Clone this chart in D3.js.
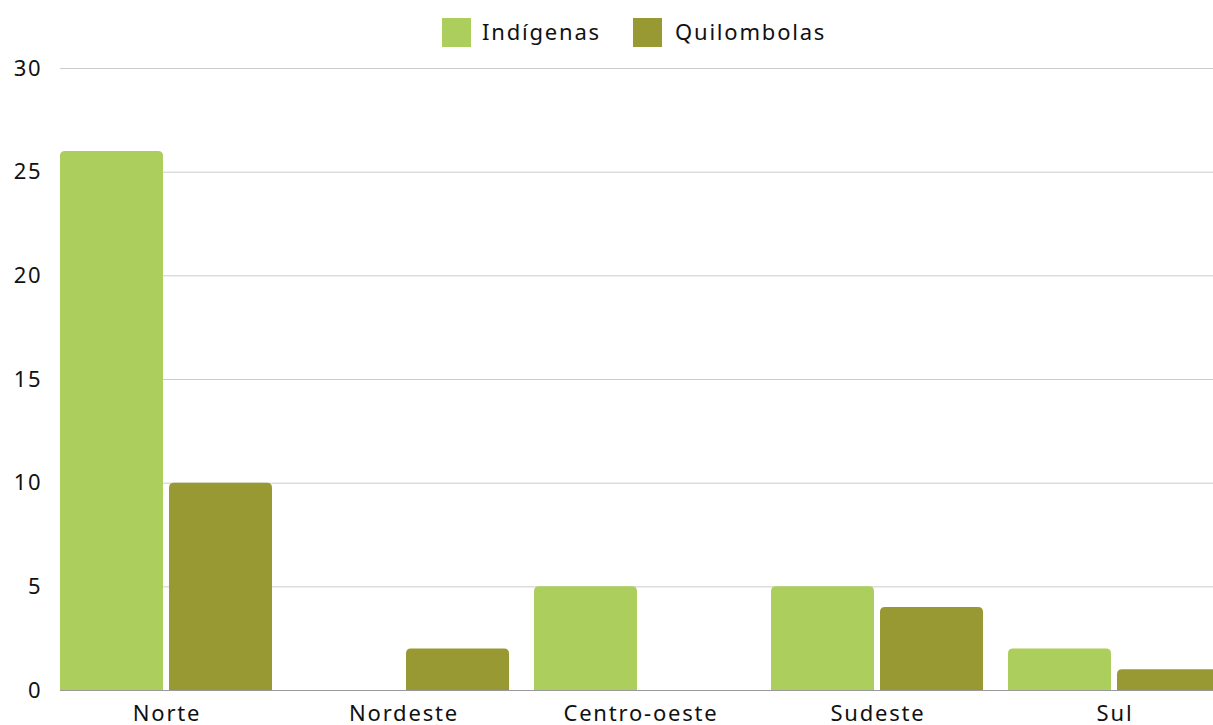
<!DOCTYPE html>
<html><head><meta charset="utf-8">
<script src="https://cdn.jsdelivr.net/npm/d3@7"></script>
<style>
html,body{margin:0;padding:0;background:#fff;overflow:hidden;}
text{font-family:"Noto Sans",sans-serif;fill:#111;letter-spacing:1.8px;}
</style></head>
<body>
<svg id="c" width="1213" height="725"></svg>
<script>
const categories = ["Norte","Nordeste","Centro-oeste","Sudeste","Sul"];
const seriesNames = ["Indígenas","Quilombolas"];
const indigenas = [26,0,5,5,2];
const quilombolas = [10,2,0,4,1];
const yTicks = [0,5,10,15,20,25,30];
const colors = ["#abce5c","#999933"];

const values = [indigenas, quilombolas];
const svg = d3.select("#c");
const y = d3.scaleLinear().domain([0,30]).range([690,68]);
const x0 = d3.scaleBand().domain(categories).range([47.5,1232.5]).paddingInner(25/237).paddingOuter(12.5/237);
const x1 = d3.scaleBand().domain(seriesNames).range([0,x0.bandwidth()]).paddingInner(6/109).paddingOuter(0);

// grid
svg.append("g").selectAll("line").data(yTicks.filter(d=>d>0)).join("line")
  .attr("x1",60).attr("x2",1213).attr("y1",d=>y(d)+0.5).attr("y2",d=>y(d)+0.5)
  .attr("stroke","#cccccc").attr("stroke-width",1);

// y labels
svg.append("g").selectAll("text").data(yTicks).join("text")
  .attr("x",42.5).attr("y",d=>y(d)).attr("dy","0.35em").attr("text-anchor","end")
  .style("font-size","22px").text(d=>d);

// bars
const r = 5;
function barPath(x,w,y0,y1){
  const h = y0-y1;
  if(h<=0) return "";
  const rr = Math.min(r,h,w/2);
  return `M${x},${y0}V${y1+rr}Q${x},${y1} ${x+rr},${y1}H${x+w-rr}Q${x+w},${y1} ${x+w},${y1+rr}V${y0}Z`;
}
const g = svg.append("g");
categories.forEach((c,i)=>{
  seriesNames.forEach((s,j)=>{
    const v = values[j][i];
    g.append("path").attr("d",barPath(x0(c)+x1(s),x1.bandwidth(),y(0),y(v))).attr("fill",colors[j]);
  });
});

// baseline
svg.append("line").attr("x1",60).attr("x2",1213).attr("y1",y(0)+0.5).attr("y2",y(0)+0.5)
  .attr("stroke","#999999").attr("stroke-width",1.2);

// x labels
svg.append("g").selectAll("text").data(categories).join("text")
  .attr("x",d=>x0(d)+x0.bandwidth()/2+1).attr("y",721).attr("text-anchor","middle")
  .style("font-size","22px").text(d=>d);

// legend
const leg = [{x:442,tx:482},{x:633,tx:675}];
seriesNames.forEach((s,j)=>{
  svg.append("rect").attr("x",leg[j].x).attr("y",18).attr("width",29).attr("height",29).attr("fill",colors[j]);
  svg.append("text").attr("x",leg[j].tx).attr("y",32.5).attr("dy","0.35em").style("font-size","22px").text(s);
});
</script>
</body></html>
